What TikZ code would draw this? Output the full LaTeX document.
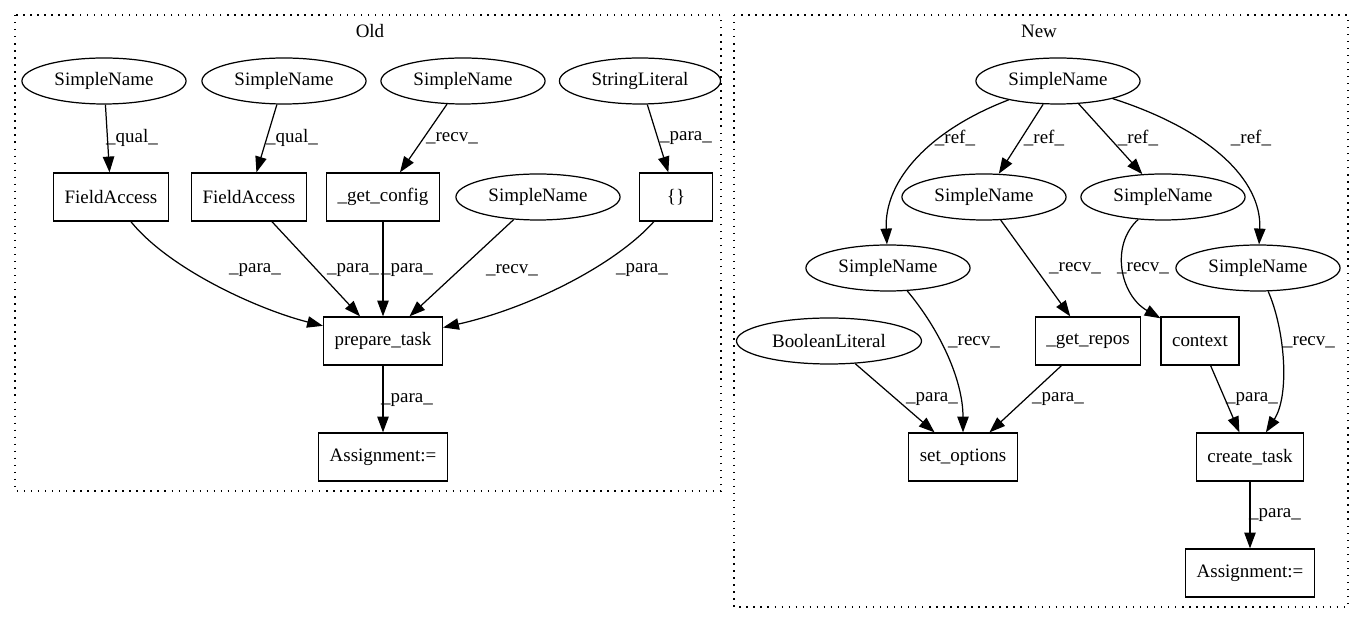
\documentclass[tikz,border=0pt]{standalone}
\usepackage{fontspec}
\setmainfont{Liberation Serif}
\usetikzlibrary{shapes.geometric,arrows.meta}

\begin{document}
\begin{tikzpicture}[x=0.02cm,y=-0.02cm,
		font=\fontsize{10.8}{12}\selectfont,
		ell/.style={draw,ellipse,line width=0.7pt,inner xsep=0.17cm,inner ysep=0.1cm,minimum height=0.92cm},
		box/.style={draw,rectangle,line width=0.7pt,inner xsep=0.22cm,minimum width=1.46cm,minimum height=0.96cm},
		edge/.style={line width=0.7pt,-{Triangle[length=9pt,width=6.5pt]}},
		lbl/.style={inner sep=1pt},
		frame/.style={line width=0.7pt,dash pattern=on 0.8pt off 3.2pt}]
		\useasboundingbox (0,0) rectangle (1360,624);

		% clusters
		\draw[frame] (15,15) rectangle (721,491);
		\draw[frame] (734,15) rectangle (1348,607);
		\node (oldtitle) at (370,31) {Old};
		\node (newtitle) at (1039,31) {New};

		% old
		\path	(104,81) node[ell] (osn1) {SimpleName}
			(284,81) node[ell] (osn2) {SimpleName}
			(463,81) node[ell] (osn3) {SimpleName}
			(640,81) node[ell] (ostr) {StringLiteral}
			(111,197) node[box] (ofa1) {FieldAccess}
			(249,197) node[box] (ofa2) {FieldAccess}
			(383,197) node[box] (ocfg) {\_get\_config}
			(538,197) node[ell] (osn4) {SimpleName}
			(676,197) node[box] (obrc) {\{\}}
			(383,341) node[box] (oprep) {prepare\_task}
			(383,457) node[box] (oasg) {Assignment:=};

		\draw[edge] (osn1) -- (ofa1);
		\draw[edge] (osn2) -- (ofa2);
		\draw[edge] (osn3) -- (ocfg);
		\draw[edge] (ostr) -- (obrc);
		\draw[edge] (ofa1) .. controls (170,270) and (260,310) .. (oprep);
		\draw[edge] (ofa2) -- (oprep);
		\draw[edge] (ocfg) -- (oprep);
		\draw[edge] (osn4) -- (oprep);
		\draw[edge] (obrc) .. controls (615,265) and (530,308) .. (oprep);
		\draw[edge] (oprep) -- (oasg);

		\node[lbl] (ol1) at (132,138) {\_qual\_};
		\node[lbl] (ol2) at (292,138) {\_qual\_};
		\node[lbl] (ol3) at (452,138) {\_recv\_};
		\node[lbl] (ol4) at (686,138) {\_para\_};
		\node[lbl] (ol5) at (255,270) {\_para\_};
		\node[lbl] (ol6) at (353,270) {\_para\_};
		\node[lbl] (ol7) at (407,270) {\_para\_};
		\node[lbl] (ol8) at (512,270) {\_recv\_};
		\node[lbl] (ol9) at (642,270) {\_para\_};
		\node[lbl] (ol10) at (407,400) {\_para\_};

		% new
		\path	(1058,81) node[ell] (ntop) {SimpleName}
			(984,197) node[ell] (nsnb) {SimpleName}
			(1163,197) node[ell] (nsnc) {SimpleName}
			(888,268) node[ell] (nsna) {SimpleName}
			(1258,268) node[ell] (nsnd) {SimpleName}
			(829,341) node[ell] (nbool) {BooleanLiteral}
			(1088,341) node[box] (nrepo) {\_get\_repos}
			(1200,341) node[box] (nctx) {context}
			(963,457) node[box] (nopt) {set\_options}
			(1250,457) node[box] (ntask) {create\_task}
			(1250,573) node[box] (nasg) {Assignment:=};

		\draw[edge] (ntop) .. controls (930,130) and (884,180) .. (nsna);
		\draw[edge] (ntop) -- (nsnb);
		\draw[edge] (ntop) -- (nsnc);
		\draw[edge] (ntop) .. controls (1210,130) and (1262,180) .. (nsnd);
		\draw[edge] (nsnb) -- (nrepo);
		\draw[edge] (nsnc) .. controls (1110,245) and (1120,295) .. (nctx);
		\draw[edge] (nsna) .. controls (940,330) and (963,380) .. (nopt);
		\draw[edge] (nsnd) .. controls (1285,330) and (1290,395) .. (ntask);
		\draw[edge] (nbool) -- (nopt);
		\draw[edge] (nrepo) -- (nopt);
		\draw[edge] (nctx) -- (ntask);
		\draw[edge] (ntask) -- (nasg);

		\node[lbl] (nl1) at (955,138) {\_ref\_};
		\node[lbl] (nl2) at (1044,138) {\_ref\_};
		\node[lbl] (nl3) at (1138,138) {\_ref\_};
		\node[lbl] (nl4) at (1251,138) {\_ref\_};
		\node[lbl] (nl5) at (1075,268) {\_recv\_};
		\node[lbl] (nl6) at (1143,268) {\_recv\_};
		\node[lbl] (nl7) at (974,342) {\_recv\_};
		\node[lbl] (nl8) at (1309,342) {\_recv\_};
		\node[lbl] (nl9) at (932,399) {\_para\_};
		\node[lbl] (nl10) at (1058,399) {\_para\_};
		\node[lbl] (nl11) at (1252,399) {\_para\_};
		\node[lbl] (nl12) at (1275,515) {\_para\_};
	\end{tikzpicture}
\end{document}
